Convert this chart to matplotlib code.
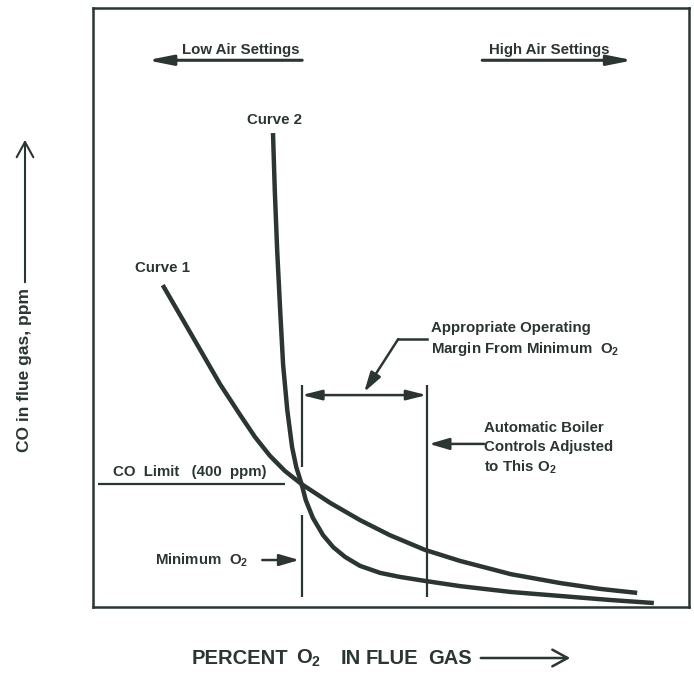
import matplotlib
matplotlib.use("Agg")
import matplotlib.pyplot as plt
from matplotlib.patches import FancyArrowPatch

plt.rcParams["font.family"] = ["Liberation Sans", "DejaVu Sans"]
plt.rcParams["mathtext.fontset"] = "custom"
plt.rcParams["mathtext.rm"] = "Liberation Sans:bold"
plt.rcParams["mathtext.bf"] = "Liberation Sans:bold"

INK = "#2b3532"

# Curve 1: gradual CO rise as excess O2 drops (percent O2, CO ppm)
curve1_o2 = [1.17, 1.46, 1.80, 2.13, 2.47, 2.72, 2.97, 3.22, 3.50, 3.98, 4.48, 4.98,
             5.57, 6.16, 7.01, 7.84, 8.51, 9.13]
curve1_co = [1048, 951, 837, 726, 625, 553, 492, 443, 400, 339, 283, 234,
             186, 150, 107, 78, 59, 46]

# Curve 2: steep CO breakthrough at low O2
curve2_o2 = [3.02, 3.05, 3.09, 3.14, 3.19, 3.26, 3.34, 3.41, 3.50, 3.57, 3.69, 3.86,
             4.03, 4.23, 4.48, 4.82, 5.15, 5.57, 6.16, 7.01, 7.84, 8.67, 9.41]
curve2_co = [1543, 1357, 1162, 967, 788, 641, 521, 456, 400, 348, 290, 234,
             195, 163, 134, 111, 98, 85, 68, 49, 36, 23, 13]

co_limit = 400        # ppm
min_o2 = 3.5          # percent O2 where the curves reach the CO limit
control_o2 = 5.6      # percent O2 the boiler controls are set to

fig = plt.figure(figsize=(6.94, 6.88), dpi=100)
ax = fig.add_axes([0.134, 0.1177, 0.8588, 0.8706])
ax.set_xlim(0, 10)
ax.set_ylim(0, 1950)
ax.set_xticks([])
ax.set_yticks([])
for sp in ax.spines.values():
    sp.set_linewidth(1.8)
    sp.set_color(INK)

ax.plot(curve1_o2, curve1_co, color=INK, lw=3.2, solid_capstyle="butt", solid_joinstyle="round")
ax.plot(curve2_o2, curve2_co, color=INK, lw=3.2, solid_capstyle="butt", solid_joinstyle="round")

tkw = dict(color=INK, fontweight="bold", fontsize=10.8)

# CO limit line
ax.hlines(co_limit, 0.08, 3.22, color=INK, lw=1.6)
ax.text(0.34, co_limit + 18, "CO  Limit   (400  ppm)", ha="left", va="bottom", **tkw)

# minimum O2 and control setpoint markers
ax.vlines(min_o2, 456, 723, color=INK, lw=1.6)
ax.vlines(min_o2, 33, 300, color=INK, lw=1.6)
ax.vlines(control_o2, 33, 723, color=INK, lw=1.6)

akw = dict(color=INK, lw=1.8, shrinkA=0, shrinkB=0)
ax.annotate("", xy=(min_o2, 690), xytext=(control_o2, 690),
            arrowprops=dict(arrowstyle="<|-|>,head_length=1.2,head_width=0.3", **akw))

# operating margin callout
ax.plot([5.60, 5.12], [872, 872], color=INK, lw=1.8)
ax.annotate("", xy=(4.55, 700), xytext=(5.12, 872),
            arrowprops=dict(arrowstyle="-|>,head_length=1.2,head_width=0.35", **akw))
ax.text(5.67, 908, "Appropriate Operating", ha="left", va="center", **tkw)
ax.text(5.67, 840, r"Margin From Minimum  O$_\mathbf{2}$", ha="left", va="center", **tkw)

# control setpoint callout
ax.annotate("", xy=(control_o2 + 0.04, 531), xytext=(6.56, 531),
            arrowprops=dict(arrowstyle="-|>,head_length=1.2,head_width=0.35", **akw))
ax.text(6.56, 583, "Automatic Boiler", ha="left", va="center", **tkw)
ax.text(6.56, 521, "Controls Adjusted", ha="left", va="center", **tkw)
ax.text(6.56, 456, r"to This O$_\mathbf{2}$", ha="left", va="center", **tkw)

# minimum O2 callout
ax.text(1.04, 153, r"Minimum  O$_\mathbf{2}$", ha="left", va="center", **tkw)
ax.annotate("", xy=(min_o2 - 0.04, 153), xytext=(2.84, 153),
            arrowprops=dict(arrowstyle="-|>,head_length=1.2,head_width=0.35", **akw))

# curve labels
ax.text(3.05, 1585, "Curve 2", ha="center", va="center", **tkw)
ax.text(1.16, 1103, "Curve 1", ha="center", va="center", **tkw)

# air setting direction arrows
ax.text(2.48, 1813, "Low Air Settings", ha="center", va="center", **tkw)
ax.annotate("", xy=(0.91, 1780), xytext=(3.51, 1780),
            arrowprops=dict(arrowstyle="-|>,head_length=1.5,head_width=0.3", **dict(akw, lw=2.2)))
ax.text(7.65, 1813, "High Air Settings", ha="center", va="center", **tkw)
ax.annotate("", xy=(9.06, 1780), xytext=(6.53, 1780),
            arrowprops=dict(arrowstyle="-|>,head_length=1.5,head_width=0.3", **dict(akw, lw=2.2)))

# axis titles with direction arrows (figure coordinates)
W, H = 694.0, 688.0
fig.text(25 / W, 1 - 370 / H, "CO in flue gas, ppm", rotation=90, ha="center", va="center",
         color=INK, fontweight="bold", fontsize=12.5)
fig.add_artist(FancyArrowPatch(
    (25 / W, 1 - 285 / H), (25 / W, 1 - 137 / H), transform=fig.transFigure,
    arrowstyle="->,head_length=0.55,head_width=0.3", mutation_scale=20, color=INK, lw=1.5))

# x title words, spaced out as typeset
xwords = ["PERCENT", r"O$_\mathbf{2}$", "IN", "FLUE", "GAS"]
xword_left = [192, 296, 341, 366, 428]
for word, left in zip(xwords, xword_left):
    fig.text(left / W, 1 - 658 / H, word, ha="left", va="center",
             color=INK, fontweight="bold", fontsize=14.5)
fig.add_artist(FancyArrowPatch(
    (478 / W, 1 - 658 / H), (573 / W, 1 - 658 / H), transform=fig.transFigure,
    arrowstyle="->,head_length=0.55,head_width=0.3", mutation_scale=20, color=INK, lw=1.8))

fig.savefig("out.png", dpi=100)
